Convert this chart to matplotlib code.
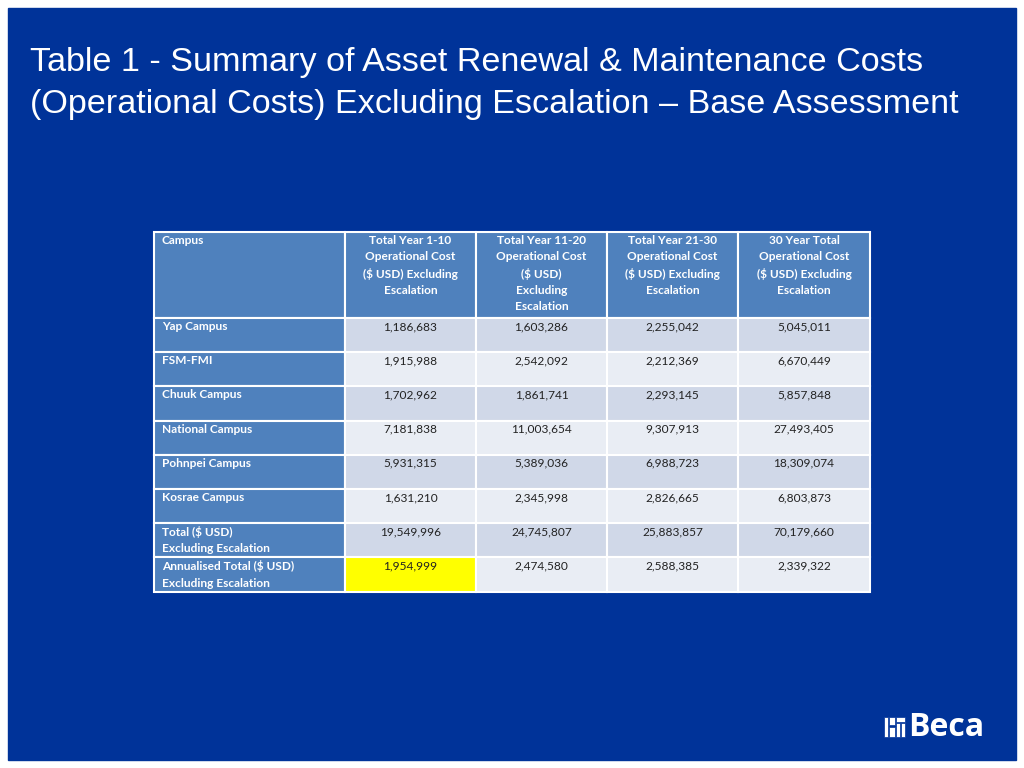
import matplotlib
matplotlib.use("Agg")
import matplotlib.pyplot as plt
from matplotlib.patches import Rectangle

title_lines = ["Table 1 - Summary of Asset Renewal & Maintenance Costs",
               "(Operational Costs) Excluding Escalation \u2013 Base Assessment"]
headers = ["Campus",
           "Total Year 1-10\nOperational Cost\n($ USD) Excluding\nEscalation",
           "Total Year 11-20\nOperational Cost\n($ USD)\nExcluding\nEscalation",
           "Total Year 21-30\nOperational Cost\n($ USD) Excluding\nEscalation",
           "30 Year Total\nOperational Cost\n($ USD) Excluding\nEscalation"]
campuses = ["Yap Campus", "FSM-FMI", "Chuuk Campus", "National Campus", "Pohnpei Campus",
            "Kosrae Campus", "Total ($ USD)\nExcluding Escalation",
            "Annualised Total ($ USD)\nExcluding Escalation"]
year_1_10 = [1186683, 1915988, 1702962, 7181838, 5931315, 1631210, 19549996, 1954999]
year_11_20 = [1603286, 2542092, 1861741, 11003654, 5389036, 2345998, 24745807, 2474580]
year_21_30 = [2255042, 2212369, 2293145, 9307913, 6988723, 2826665, 25883857, 2588385]
total_30 = [5045011, 6670449, 5857848, 27493405, 18309074, 6803873, 70179660, 2339322]
highlight = (7, 1)

fig = plt.figure(figsize=(10.24, 7.68), dpi=100)
ax = fig.add_axes([0, 0, 1, 1])
ax.set_xlim(0, 1024); ax.set_ylim(768, 0); ax.axis("off")
fig.patch.set_facecolor("white")
ax.add_patch(Rectangle((8, 8), 1008, 752, color="#003399"))
for i, t in enumerate(title_lines):
    ax.text(30, 63 + i * 41, t, color="white", fontsize=24.6, family="Liberation Sans",
            va="center", ha="left")

col_x = [154, 345, 476, 607, 738, 870]
header_top, header_bot = 232, 318
row_h = 34.2
font = "Lato"
fs = 8.6
hdr_blue = "#4F81BD"
for c in range(5):
    x0, x1 = col_x[c], col_x[c + 1]
    ax.add_patch(Rectangle((x0, header_top), x1 - x0, header_bot - header_top,
                           facecolor=hdr_blue, edgecolor="white", lw=1.5))
    if c == 0:
        ax.text(x0 + 8, header_top + 3, headers[c], color="white", fontsize=fs, weight="bold",
                family=font, va="top", ha="left")
    else:
        ax.text((x0 + x1) / 2, header_top + 3, headers[c], color="white", fontsize=fs,
                weight="bold", family=font, va="top", ha="center", linespacing=1.57)
cols = [year_1_10, year_11_20, year_21_30, total_30]
for r in range(len(campuses)):
    y0 = header_bot + r * row_h
    ax.add_patch(Rectangle((col_x[0], y0), col_x[1] - col_x[0], row_h,
                           facecolor=hdr_blue, edgecolor="white", lw=1.5))
    ax.text(col_x[0] + 8, y0 + 3, campuses[r], color="white", fontsize=fs, weight="bold",
            family=font, va="top", ha="left", linespacing=1.57)
    base = "#D0D8E8" if r % 2 == 0 else "#E9EDF4"
    for c in range(4):
        x0, x1 = col_x[c + 1], col_x[c + 2]
        fc = "#FFFF00" if (r, c + 1) == highlight else base
        ax.add_patch(Rectangle((x0, y0), x1 - x0, row_h, facecolor=fc, edgecolor="white", lw=1.5))
        ax.text((x0 + x1) / 2, y0 + 3, f"{cols[c][r]:,}", color="#222222", fontsize=fs,
                family=font, va="top", ha="center")

for (lx, ly, w, h) in [(884, 717, 4, 20), (889, 717, 6, 8), (889, 727, 6, 10), (896, 717, 9, 5),
                       (896, 723, 4, 14), (901, 723, 4, 14)]:
    ax.add_patch(Rectangle((lx, ly), w, h, facecolor="white", edgecolor="#003399", lw=0.5))
ax.text(908, 727, "Beca", color="white", fontsize=23, weight="bold", family="Open Sans",
        va="center", ha="left")
fig.savefig("out.png", dpi=100)
